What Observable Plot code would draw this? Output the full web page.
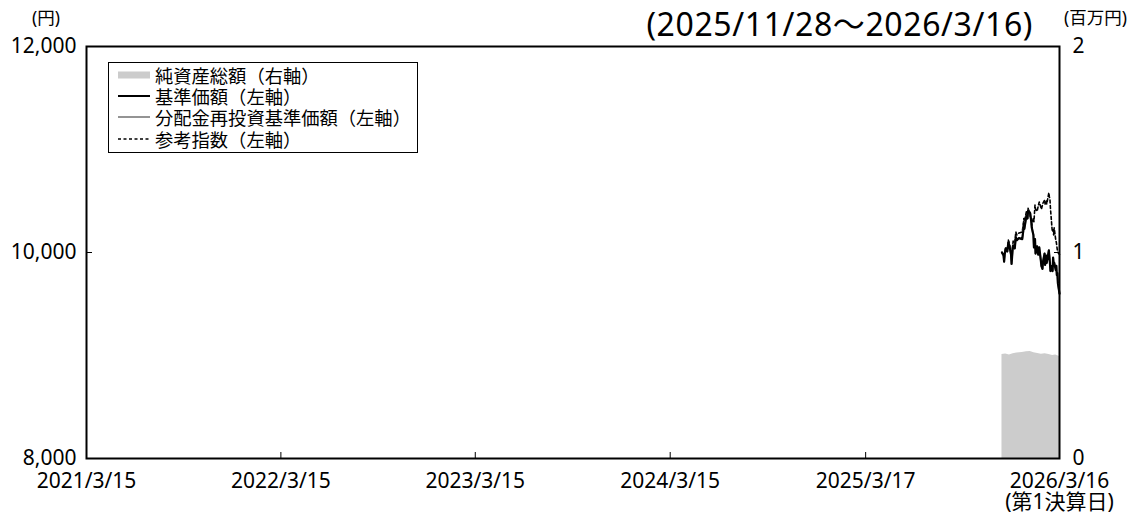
<!DOCTYPE html>
<html>
<head>
<meta charset="utf-8">
<script src="https://cdn.jsdelivr.net/npm/d3@7"></script>
<script src="https://cdn.jsdelivr.net/npm/@observablehq/plot@0.6"></script>
<style>
  html, body { margin: 0; padding: 0; background: #fff; }
  #wrap { position: relative; width: 1132px; height: 514px; font-family: "Noto Sans", "Noto Sans CJK JP", sans-serif; color: #000; }
  .abs { position: absolute; white-space: nowrap; line-height: 1; }
  #legend { position: absolute; left: 108px; top: 62px; width: 310px; height: 91px; border: 1.5px solid #000; background: #fff; box-sizing: border-box; padding-top: 1px; font-family: "Noto Sans CJK JP", sans-serif; }
  .row { display: flex; align-items: center; height: 21.3px; line-height: 20px; font-size: 18.3px; }
  .row span { display: inline-block; height: 20px; line-height: 20px; }
  .row svg { margin-left: 9px; margin-right: 5px; }
</style>
</head>
<body>
<div id="wrap">
  <div id="chart"></div>
  <div class="abs" id="title" style="right:99px; top:8px; font-size:32px; letter-spacing:0.6px;">(2025/11/28～2026/3/16)</div>
  <div class="abs" style="left:32px; top:9px; font-size:17.5px;">(円)</div>
  <div class="abs" style="left:1064px; top:9px; font-size:17.5px;">(百万円)</div>
  <div id="legend"></div>
</div>
<script>
// ---- data ----
const navDates = [
  "2025-11-28","2025-12-01","2025-12-02","2025-12-03","2025-12-05","2025-12-08","2025-12-10","2025-12-12",
  "2025-12-15","2025-12-16","2025-12-18","2025-12-19","2025-12-22","2025-12-24","2025-12-26","2025-12-30",
  "2026-01-05","2026-01-07","2026-01-08","2026-01-09","2026-01-13","2026-01-15","2026-01-16","2026-01-19",
  "2026-01-20","2026-01-22","2026-01-23","2026-01-26","2026-01-27","2026-01-29","2026-01-30","2026-02-02",
  "2026-02-04","2026-02-06","2026-02-09","2026-02-10","2026-02-12","2026-02-13","2026-02-16","2026-02-17",
  "2026-02-19","2026-02-20","2026-02-24","2026-02-25","2026-02-26","2026-02-27","2026-03-02","2026-03-03",
  "2026-03-04","2026-03-05","2026-03-06","2026-03-09","2026-03-10","2026-03-11","2026-03-12","2026-03-13",
  "2026-03-16"
];
const navValues = [
  10000, 9970, 9910, 9980,10040,10010,10100,10060,
   9980, 9890,10030,10070,10040,10150,10120,10140,
  10130,10210,10280,10230,10360,10330,10410,10390,
  10380,10300,10240,10170,10050,10130, 9990,10060,
   9980,10050, 9920, 9870, 9840, 9910, 9990, 9880,
   9970, 9900,10020, 9960, 9900, 9820, 9870, 9820,
   9950, 9890, 9900, 9830, 9870, 9780, 9800, 9700,
   9600
];
// 分配金再投資基準価額 (no distribution yet: same as NAV)
const reinvValues = navValues.slice();
const refValues = [
  10000, 9975, 9925, 9990,10050,10030,10120,10090,
  10010, 9920,10060,10110,10090,10200,10170,10190,
  10200,10270,10330,10300,10400,10380,10430,10370,
  10350,10310,10260,10340,10300,10460,10420,10400,
  10450,10490,10440,10420,10460,10480,10510,10470,
  10500,10470,10580,10540,10520,10430,10230,10200,
  10220,10170,10240,10120,10100,10060,10020,10000,
   9980
];
const assetDates = ["2025-11-28","2025-12-05","2025-12-12","2025-12-19","2025-12-26","2026-01-05","2026-01-13","2026-01-20",
  "2026-01-27","2026-02-03","2026-02-10","2026-02-17","2026-02-24","2026-03-03","2026-03-09","2026-03-16"];
const assetValues = [0.505,0.507,0.503,0.508,0.512,0.514,0.518,0.520,0.513,0.510,0.506,0.508,0.505,0.500,0.502,0.495]; // 百万円

const xTickDates = ["2021-03-15","2022-03-15","2023-03-15","2024-03-15","2025-03-17","2026-03-16"];
const xTickLabels = ["2021/3/15","2022/3/15","2023/3/15","2024/3/15","2025/3/17","2026/3/16\n(第1決算日)"];
const yLeftTicks = [8000, 10000, 12000];
const yRightLabels = ["0", "1", "2"];

// ---- build ----
const series = navDates.map((d, i) => ({date: new Date(d), nav: navValues[i], reinv: reinvValues[i], ref: refValues[i]}));
const assets = assetDates.map((d, i) => ({date: new Date(d), v: assetValues[i]}));
const xTicks = xTickDates.map(d => new Date(d));
const xLabelMap = new Map(xTicks.map((d, i) => [+d, xTickLabels[i]]));
const yMin = 8000, yMax = 12000, rightMax = 2;
const toLeft = v => yMin + v * (yMax - yMin) / rightMax;
const rightMap = new Map(yLeftTicks.map((t, i) => [t, yRightLabels[i]]));

const chart = Plot.plot({
  width: 1132,
  height: 514,
  marginLeft: 86,
  marginRight: 73,
  marginTop: 46,
  marginBottom: 56,
  style: {fontFamily: "'Noto Sans', 'Noto Sans CJK JP', sans-serif", fontSize: "21px", color: "#000", background: "#fff", overflow: "visible"},
  x: {type: "utc", domain: [new Date("2021-03-15"), new Date("2026-03-16")]},
  y: {domain: [yMin, yMax]},
  marks: [
    Plot.areaY(assets, {x: "date", y1: yMin, y2: d => toLeft(d.v), fill: "#cccccc"}),
    Plot.lineY(series, {x: "date", y: "ref", stroke: "#000", strokeWidth: 1.6, strokeDasharray: "3,2.5"}),
    Plot.lineY(series, {x: "date", y: "reinv", stroke: "#888", strokeWidth: 1.8}),
    Plot.lineY(series, {x: "date", y: "nav", stroke: "#000", strokeWidth: 2.2}),
    Plot.axisX({ticks: xTicks, tickSize: -6, tickFormat: () => "", stroke: "#000"}),
    Plot.axisX({ticks: xTicks, tickSize: 0, tickPadding: 15, tickFormat: d => xLabelMap.get(+d), label: null, lineHeight: 1.0, fill: "#000"}),
    Plot.axisY({ticks: yLeftTicks, anchor: "left", tickSize: -6, tickFormat: () => "", label: null}),
    Plot.axisY({ticks: yLeftTicks, anchor: "left", tickSize: 0, tickPadding: 10, tickFormat: d3.format(","), label: null, fill: "#000"}),
    Plot.axisY({ticks: yLeftTicks, anchor: "right", tickSize: -6, tickFormat: () => "", label: null}),
    Plot.axisY({ticks: yLeftTicks, anchor: "right", tickSize: 0, tickPadding: 13, tickFormat: d => rightMap.get(d), label: null, fill: "#000"}),
    Plot.frame({stroke: "#000", strokeWidth: 2})
  ]
});
document.getElementById("chart").appendChild(chart);

// ---- legend ----
const legendItems = [
  {label: "純資産総額（右軸）", kind: "area"},
  {label: "基準価額（左軸）", kind: "line", color: "#000", w: 2},
  {label: "分配金再投資基準価額（左軸）", kind: "line", color: "#888", w: 1.8},
  {label: "参考指数（左軸）", kind: "dash", color: "#000", w: 1.5}
];
const lg = document.getElementById("legend");
for (const it of legendItems) {
  const row = document.createElement("div");
  row.className = "row";
  let sw;
  if (it.kind === "area") sw = `<svg width="32" height="10"><rect x="0" y="1.5" width="32" height="7" fill="#cccccc"/></svg>`;
  else sw = `<svg width="32" height="10"><line x1="0" x2="32" y1="5" y2="5" stroke="${it.color}" stroke-width="${it.w}" ${it.kind === "dash" ? 'stroke-dasharray="3,2.5"' : ''}/></svg>`;
  row.innerHTML = sw + `<span>${it.label}</span>`;
  lg.appendChild(row);
}
</script>
</body>
</html>
